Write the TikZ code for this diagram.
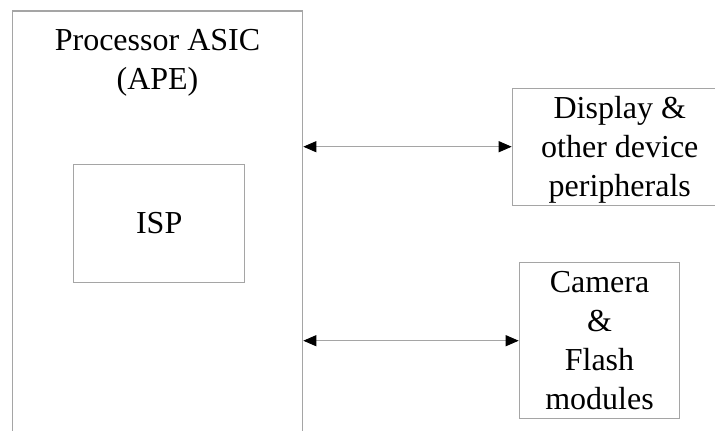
\documentclass[tikz,border=0pt]{standalone}
\usepackage{fontspec}
\setmainfont{Liberation Serif}
\usetikzlibrary{arrows.meta}

\definecolor{boxgray}{RGB}{165,165,165}
\tikzset{
  box/.style={draw=boxgray, line width=0.6pt, inner sep=0pt, align=center,
    font=\fontsize{16}{19.5}\selectfont},
  link/.style={draw=boxgray, line width=0.5pt,
    {Triangle[length=6.5pt,width=5.5pt,color=black]}-{Triangle[length=6.5pt,width=5.5pt,color=black]}}
}

\begin{document}
\begin{tikzpicture}[x=0.5pt,y=-0.5pt]
\useasboundingbox (0,0) rectangle (715,430);
\clip (0,0) rectangle (715,430);

\node[box, minimum width=145.2pt, minimum height=220pt] (ape) at (157.5,231) {};
\node[align=center, inner sep=0pt, font=\fontsize{16}{19.5}\selectfont] (apelbl) at (157.5,63) {Processor ASIC\\(APE)};
\node[box, minimum width=85.5pt, minimum height=59pt] (isp) at (159.2,223.3) {ISP};

\node[box, minimum width=107.5pt, minimum height=58.4pt] (disp) at (619.8,146.7) {};
\node[align=center, inner sep=0pt, font=\fontsize{16}{19.5}\selectfont] (displbl) at (619.8,149.5) {Display \&\\other device\\peripherals};
\node[box, minimum width=80.2pt, minimum height=78pt] (cam) at (599.5,340.7) {Camera\\\&\\Flash\\modules};

\draw[link] (ape.east |- disp.west) -- (disp.west);
\draw[link] (ape.east |- cam.west) -- (cam.west);
\end{tikzpicture}
\end{document}
